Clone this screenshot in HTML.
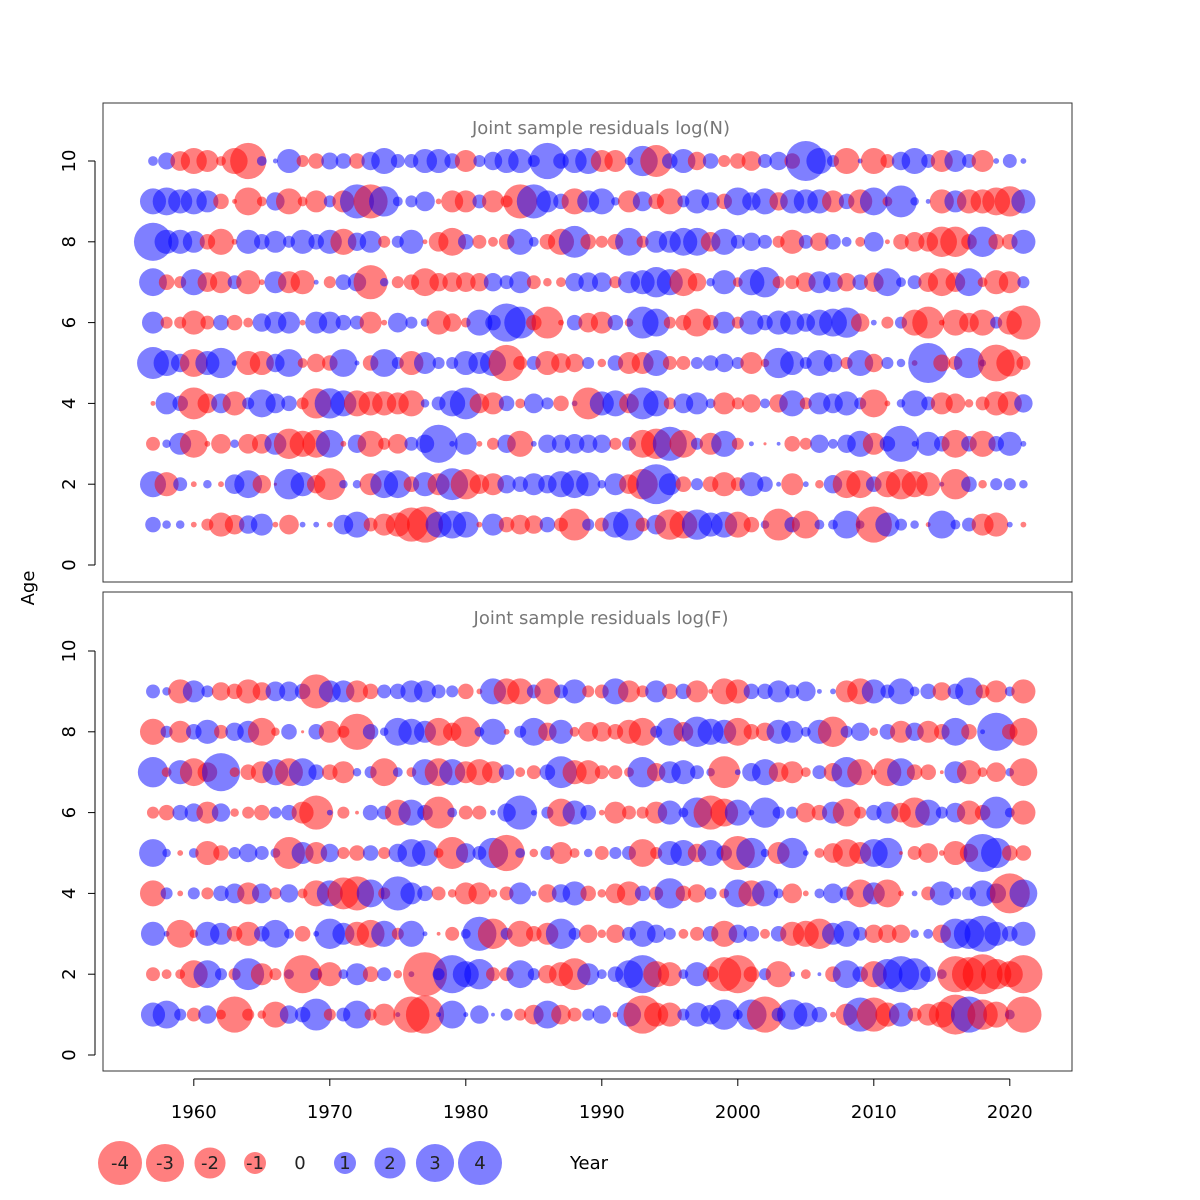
<!DOCTYPE html>
<html><head><meta charset="utf-8"><style>
html,body{margin:0;padding:0;background:#fff}
svg{display:block;font-family:"DejaVu Sans","Liberation Sans",sans-serif}
</style></head><body>
<svg id="chart" width="1200" height="1200" viewBox="0 0 1200 1200">
<rect x="0" y="0" width="1200" height="1200" fill="#fff"/>
<g id="panelN">
<rect x="103" y="103" width="969" height="479" fill="none" stroke="#333" stroke-width="1"/>
<text x="601" y="134" font-size="18" fill="#777" text-anchor="middle">Joint sample residuals log(N)</text>
<g id="bubblesN"></g>
<g id="yaxisN"></g>
</g>
<g id="panelF">
<rect x="103" y="592" width="969" height="479" fill="none" stroke="#333" stroke-width="1"/>
<text x="601" y="624" font-size="18" fill="#777" text-anchor="middle">Joint sample residuals log(F)</text>
<g id="bubblesF"></g>
<g id="yaxisF"></g>
</g>
<g id="xaxis"></g>
<text x="0" y="0" font-size="18" fill="#000" text-anchor="middle" transform="translate(34,588) rotate(-90)">Age</text>
<text x="589" y="1169" font-size="18" fill="#000" text-anchor="middle">Year</text>
<g id="legend"></g>
</svg>
<script>
const years = [];
for (let y = 1957; y <= 2021; y++) years.push(y);
const xTicks = [1960, 1970, 1980, 1990, 2000, 2010, 2020];
const yTicks = [0, 2, 4, 6, 8, 10];
const legendValues = [-4, -3, -2, -1, 0, 1, 2, 3, 4];

// log(N) residuals, by age (1..10), years 1957..2021
const N1 = [0.5,0.15,0.15,-0.07,-0.3,-1.2,-0.8,0.7,1,-0.07,-0.8,0.07,0.07,-0.07,0.8,1.4,-0.4,-1,-1.2,-2.4,-2.7,1.4,1.6,1.4,-0.07,1,-0.5,-0.8,-0.7,0.5,-0.4,-2.1,0.3,-0.4,1.4,2.1,-0.4,0.8,-1.9,-1.6,1.9,1.2,1.4,-1.4,-0.5,0.15,-2.1,0.5,-1.6,0.2,0.2,1.6,0.15,-2.7,1.2,0.3,0.15,-0.05,1.6,0.2,0.4,-1,-1.2,0.07,-0.07];
const N2 = [1.4,-1.2,0.4,-0.07,0.15,-0.07,0.8,1.6,-0.7,-0.02,1.9,1.2,-0.7,-2.1,0.15,0.15,-1,1.6,1.6,-0.5,1.2,-1,2.1,-1.9,-0.8,-1,0.7,0.5,1,0.7,1.4,1.6,1.2,0.15,1,-0.8,-1.9,3.3,1,-0.5,0.3,-0.5,-1.2,-0.4,1.2,0.5,0.05,-1,0.07,-0.15,0.7,-1.6,-1.6,0.5,-1.4,-1.9,-1.4,-1.2,0.05,-1.9,0.5,-0.15,0.3,0.3,0.15];
const N3 = [-0.4,0.15,1,-1.6,-0.07,-0.8,0.15,-0.8,-0.8,1,-1.9,-1.4,-1.6,1.6,-0.07,0.7,-1.4,-0.3,-0.8,0.4,0.7,3,0.07,1,-0.07,-0.3,0.7,-1.4,0.07,0.7,0.7,0.8,0.7,0.7,-0.3,0.4,-1.6,-1.9,2.4,-1.6,0.3,-1,1.4,-0.3,0.05,-0.02,0.03,-0.5,-0.3,0.7,0.2,0.7,1.4,-1,0.5,2.7,0.07,1.2,0.5,-1.6,0.5,-1.4,0.5,1.2,0.07];
const N4 = [-0.05,1,0.5,-2.1,-0.8,0.8,-1.2,0.3,1.6,0.8,0.5,-0.3,-1.9,1.9,1.4,-1.4,-1.2,-1.2,-1,-1.4,0.15,0.4,1.4,2.1,-0.8,-1,0.5,-0.2,0.8,0.3,-0.5,0.07,-2.1,1.2,1.4,-0.8,2.1,1.4,-0.3,0.8,1,0.2,-1,-0.3,-0.7,0.2,-0.7,1.4,-0.3,1,0.8,1.2,0.3,-1.6,-0.07,0.15,1.4,0.4,-1,-0.8,-0.15,-0.4,-1.2,-1.2,0.7];
const N5 = [2.1,1.4,0.7,-1.6,1.2,1.9,0.07,-1.2,-1.2,0.7,1.6,-0.2,-0.7,-0.5,1.6,0.05,-0.5,1.6,0.3,-1.2,1,0.3,0.3,1.2,1,1.4,-2.7,-0.4,0.4,-1.2,-0.8,-0.7,0.3,-0.15,0.5,-1,-1,1.4,-0.4,-0.4,0.3,0.5,0.7,0.3,-1,-0.15,1.9,1.2,0.3,1.4,0.7,-0.3,1.4,-0.7,0.3,0.15,-0.07,3.3,-0.6,-0.4,1.9,0.1,-2.8,-1.5,-0.4];
const N6 = [1,-0.3,-0.3,-1.2,-0.4,0.5,-0.5,-0.2,0.7,1,1,-0.07,1,1,0.5,0.4,-1,-0.07,0.8,0.3,0.15,-1.2,-0.7,-0.2,1.4,0.5,3,2.1,-0.5,-2.1,-0.07,0.5,-0.8,-1,0.5,-0.15,2.1,1.6,-0.3,-0.5,-1.6,-0.5,1,-0.3,1.2,0.5,1.2,1.2,0.7,1.4,1.6,1.9,-0.7,0.07,-0.3,0.3,-1.4,-2.1,-0.07,-1.4,-0.8,-1.4,0.3,-1.2,-2.4];
const N7 = [1.6,-0.5,-0.3,1.4,-0.8,-1,0.4,-1.2,-0.07,1,-1,-1.2,0.05,-0.3,0.5,0.7,-2.4,0.15,-0.3,-0.5,-1.6,-0.7,-0.8,-0.8,-0.7,0.7,0.4,1,-0.4,-0.15,-0.2,0.7,0.8,0.8,-0.3,1,1.2,1.9,1.4,-1.6,-0.7,0.15,1.2,-0.2,1.4,1.9,-0.3,-0.4,-0.8,1,0.8,-0.7,0.5,-0.8,1.6,0.2,0.4,-0.8,-1.6,-0.8,1.6,-0.2,-1.2,-1,0.3];
const N8 = [3,1.2,1.2,1,-0.5,-1.4,-0.07,1.2,0.5,1,0.3,1.2,0.5,1.2,-1.4,0.7,1,-0.3,0.3,1.2,-0.05,-0.8,-1.6,0.5,-0.4,-0.2,-0.5,1.4,0.2,-0.5,-1.4,2.1,-0.5,-0.3,-0.5,1.6,-0.3,1,1,1.6,1.6,-0.8,1.4,0.4,0.7,0.4,-0.3,-1.2,0.4,-0.7,0.5,0.2,-0.2,0.8,-0.05,-0.5,-0.8,-0.8,-1.9,-1.9,-0.5,1.9,-0.5,-0.5,1.2];
const N9 = [1.4,1.6,1.2,1.4,1,-0.5,-0.05,-1.6,-0.2,0.7,-1.4,-0.2,-1,0.3,-1,2.4,-2.4,1.9,0.2,0.3,0.8,-0.07,-1,-1,0.4,-1,-0.3,-2.4,2.4,1,0.5,-1.4,1,1.4,0.15,-1,0.8,-0.5,-1.4,0.3,1.2,0.7,-0.5,1.6,0.7,1.4,-0.7,1.2,1.2,1.2,-1,0.5,-1.2,1.6,-0.2,2.1,0.15,0.05,-1.2,1,-1.2,-1.2,-1.6,-1.9,1.2];
const N10 = [0.2,0.6,-0.8,-1.4,-1,-0.2,-1.4,-2.7,0.2,0.05,1.2,-0.3,-0.5,0.6,0.5,-0.5,0.7,1.4,0.4,0.4,1.2,1.2,0.5,-1,0.3,0.7,1.2,1.2,0.3,2.7,0.5,1.2,1.4,-1,-1,0.15,1.9,-2.1,0.5,1.2,-0.7,0.5,-0.3,-0.5,-0.8,0.4,0.7,-0.5,3.3,1.4,0.3,-1.4,0.05,-1.4,-0.4,0.7,1.4,0.4,-1,1,0.4,-1,0.07,0.4,0.07];

// log(F) residuals, by age (1..9)
const F1 = [1.2,1.6,0.3,-0.4,0.7,-0.2,-2.7,-0.3,-0.15,-1.4,0.7,0.5,2.1,-0.3,0.4,1.6,-0.3,-1,0.05,-2.7,-3,0.05,1.6,0.05,0.7,0.03,0.3,-0.3,-0.8,1.6,-0.8,-0.4,0.3,0.7,-0.07,1.2,-3,-1.2,-1.2,0.3,1.2,0.8,1.9,0.2,1.9,-2.7,0.4,1.9,1.2,0.5,-0.07,-1,2.4,-2.4,-1.2,1.2,-0.4,-1,-1.4,-3.3,2.7,-1.9,-1.4,0.2,-2.7];
const F2 = [-0.4,-0.2,-0.2,-1.6,1.6,0.3,-0.3,2.1,-1,-0.3,0.2,-3,0.3,-1.2,0.2,1,-0.5,0.4,-0.15,0.07,-4,0.3,3,1.4,1.9,-0.4,-0.4,1.6,0.3,-0.7,-1.2,-2.1,1,0.2,0.5,1.6,3,-1.4,-1.2,0.2,1.2,-0.5,-2.4,-3,-0.5,0.3,-1.4,0.07,-0.2,0.03,-0.5,1.6,0.5,-1.4,1.9,2.7,2.1,0.5,0.2,-2.7,-2.4,-3.3,-1.9,-1.4,-3];
const F3 = [1.2,0.07,-1.6,-0.15,1.2,1,-0.5,-1.2,0.5,1.6,0.2,-0.5,0.07,1.9,1,-1.2,-1.6,1.4,-0.3,1.4,0.05,-0.03,-0.4,0.2,2.4,-1.9,0.3,-1.4,-0.5,-1,1.9,0.3,-0.7,-0.15,-0.7,0.4,1.4,0.7,0.3,-0.2,-0.4,0.5,-1.4,0.7,0.5,-0.2,0.5,-1.2,-1.4,-1.9,1,1.4,0.4,-0.7,-0.7,-0.7,0.15,0.2,-0.7,1.9,1.9,2.7,1.2,0.5,1.2];
const F4 = [-1.4,0.3,-0.07,0.3,-0.3,0.5,0.8,-1,0.8,-0.3,0.7,-0.2,-1.4,1.4,-2.1,-2.4,1.6,-0.3,2.4,1,0.5,-0.4,-0.15,-1,-1,-0.15,-0.4,1,0.07,-0.7,0.7,1.2,-0.5,-0.15,-0.8,-1.2,0.5,-0.4,1.9,-0.5,-0.7,0.3,-0.2,1.6,-1.4,1.4,0.2,-0.8,-0.07,0.2,0.8,0.4,-1.6,1,-1.6,-0.07,0.07,-0.4,1.2,0.3,0.4,1.4,0.8,-3.3,1.6];
const F5 = [1.6,0.15,-0.07,0.2,-1.2,-0.5,0.3,0.7,0.4,0.2,-2.1,1,-1,0.7,-0.3,-0.5,0.5,-0.3,0.7,1.6,1.4,-0.2,-2.1,0.8,0.4,1.9,-2.7,0.2,-0.15,0.4,-1,-0.2,0.15,-0.4,0.3,0.4,-1.6,-0.3,1.2,1.4,-0.7,1.4,0.5,-2.4,1.9,0.15,-1,1.9,0.07,-0.2,-0.8,-1.6,-1,1.6,1.9,-0.03,-0.4,-0.8,-0.07,-1.2,-0.7,3,1.9,-0.5,-0.5];
const F6 = [-0.3,-0.5,0.5,0.7,-1,0.7,-0.15,-0.3,-0.5,0.3,0.5,-1,-2.4,0.07,-0.3,-0.03,0.5,0.4,-1.4,1.4,0.5,-2.1,0.2,-0.4,-0.4,0.07,0.7,2.4,0.07,0.3,-1.6,1.2,0.5,-0.07,-1,-0.4,-0.3,-1,1.2,0.2,1.9,-2.4,-1.6,1.4,0.07,1.9,0.3,0.3,-0.8,-0.5,1,-1.6,-0.3,0.5,1,-0.8,-1.9,1.4,0.3,0.8,-1.2,-0.5,2.1,0.2,-1.2];
const F7 = [1.9,-0.2,1.2,-1.6,-0.8,3,-0.2,-0.5,-1,1.4,-1.6,1.6,0.5,-0.5,-1,0.15,0.3,-1.6,0.2,-0.2,1.4,-1.6,1.4,-1,-1.4,-1,0.5,-0.2,-0.4,0.5,2.1,-1.2,-1.2,-0.4,-0.4,-0.2,1.9,-0.7,1,1.2,0.4,0.15,-2.1,0.07,0.7,1.4,-0.8,-1,-0.2,0.4,-0.7,1.9,-1.4,-0.07,-1.6,1.6,-0.5,-0.5,-0.03,1,-1.2,-0.2,-0.8,0.15,-1.6];
const F8 = [-1.4,0.3,-1,0.5,1.2,-0.4,0.7,1,-1.6,-0.15,0.5,-0.02,0.5,-1,-0.3,-2.7,0.5,0.15,1.6,1.4,1,-1.6,-0.7,-1.9,0.2,1.4,-0.07,0.3,1.6,-0.7,1.2,-0.2,-0.8,-0.8,-0.5,-1.2,-1.6,0.3,1.6,-0.8,1.9,1.4,1.2,-1.6,-0.5,-0.7,1.2,1,0.2,1.2,-1.9,0.3,0.7,-0.15,0.5,-1,0.7,-1,-0.5,1.6,-0.5,0.05,3,-0.5,-1.6];
const F9 = [0.4,0.15,-1.2,1,0.3,-0.7,-0.5,-1.2,-0.7,0.8,0.8,0.5,-2.4,1,1,-1,-0.5,0.4,0.5,1,1,0.4,0.3,-0.5,-0.07,1.4,-1.4,-1.4,0.4,-1.4,0.4,1.2,-0.3,-0.4,1.4,-1,-0.3,1,-0.5,0.5,-1,-0.05,-1.4,-1.2,0.5,0.5,1,0.4,0.8,0.05,0.07,-1,-1.4,1.2,0.4,1.4,0.2,0.5,-0.7,0.5,1.6,-0.4,-1,0.2,-1.2];

const rowsN = [N1, N2, N3, N4, N5, N6, N7, N8, N9, N10];
const rowsF = [F1, F2, F3, F4, F5, F6, F7, F8, F9];

const NS = 'http://www.w3.org/2000/svg';
function xScale(yr) { return 153 + (yr - 1957) * 13.6; }
function yScaleN(a) { return 565 - a * 40.4; }
function yScaleF(a) { return 1055 - a * 40.4; }
function rScale(v) { return 11 * Math.sqrt(Math.abs(v)); }
function fillFor(v) { return v < 0 ? 'rgba(255,0,0,0.5)' : 'rgba(0,0,255,0.5)'; }
function mk(tag) { return document.createElementNS(NS, tag); }

function drawBubbles(gid, rows, yScale, prefix) {
  const g = document.getElementById(gid);
  rows.forEach((row, i) => {
    const age = i + 1;
    row.forEach((v, j) => {
      if (v === 0) return;
      const c = mk('circle');
      c.setAttribute('cx', xScale(years[j]));
      c.setAttribute('cy', yScale(age));
      c.setAttribute('r', rScale(v));
      c.setAttribute('fill', fillFor(v));
      
      
      g.appendChild(c);
    });
  });
}
drawBubbles('bubblesN', rowsN, yScaleN, 'logN');
drawBubbles('bubblesF', rowsF, yScaleF, 'logF');

function drawYAxis(gid, yScale, prefix) {
  const g = document.getElementById(gid);
  const line = mk('line');
  line.setAttribute('x1', 95); line.setAttribute('x2', 95);
  line.setAttribute('y1', yScale(0)); line.setAttribute('y2', yScale(10));
  line.setAttribute('stroke', '#000');
  
  
  g.appendChild(line);
  yTicks.forEach(t => {
    const tk = mk('line');
    tk.setAttribute('x1', 88); tk.setAttribute('x2', 95);
    tk.setAttribute('y1', yScale(t)); tk.setAttribute('y2', yScale(t));
    tk.setAttribute('stroke', '#000');
    
    
    g.appendChild(tk);
    const tx = mk('text');
    tx.setAttribute('transform', 'translate(75,' + yScale(t) + ') rotate(-90)');
    tx.setAttribute('text-anchor', 'middle');
    tx.setAttribute('font-size', '18');
    tx.textContent = t;
    
    
    g.appendChild(tx);
  });
}
drawYAxis('yaxisN', yScaleN, 'logN');
drawYAxis('yaxisF', yScaleF, 'logF');

(function () {
  const g = document.getElementById('xaxis');
  const line = mk('line');
  line.setAttribute('x1', xScale(1960)); line.setAttribute('x2', xScale(2020));
  line.setAttribute('y1', 1079); line.setAttribute('y2', 1079);
  line.setAttribute('stroke', '#000');
  
  
  g.appendChild(line);
  xTicks.forEach(t => {
    const tk = mk('line');
    tk.setAttribute('x1', xScale(t)); tk.setAttribute('x2', xScale(t));
    tk.setAttribute('y1', 1079); tk.setAttribute('y2', 1086);
    tk.setAttribute('stroke', '#000');
    
    
    g.appendChild(tk);
    const tx = mk('text');
    tx.setAttribute('x', xScale(t)); tx.setAttribute('y', 1118);
    tx.setAttribute('text-anchor', 'middle');
    tx.setAttribute('font-size', '18');
    tx.textContent = t;
    
    
    g.appendChild(tx);
  });
})();

(function () {
  const g = document.getElementById('legend');
  legendValues.forEach((v, i) => {
    const cx = 120 + i * 45, cy = 1163;
    if (v !== 0) {
      const c = mk('circle');
      c.setAttribute('cx', cx); c.setAttribute('cy', cy);
      c.setAttribute('r', rScale(v));
      c.setAttribute('fill', fillFor(v));
      
      
      g.appendChild(c);
    }
    const tx = mk('text');
    tx.setAttribute('x', cx); tx.setAttribute('y', cy + 6);
    tx.setAttribute('text-anchor', 'middle');
    tx.setAttribute('font-size', '18');
    tx.setAttribute('fill', '#222');
    tx.textContent = v;
    
    
    g.appendChild(tx);
  });
})();
</script>
</body></html>
